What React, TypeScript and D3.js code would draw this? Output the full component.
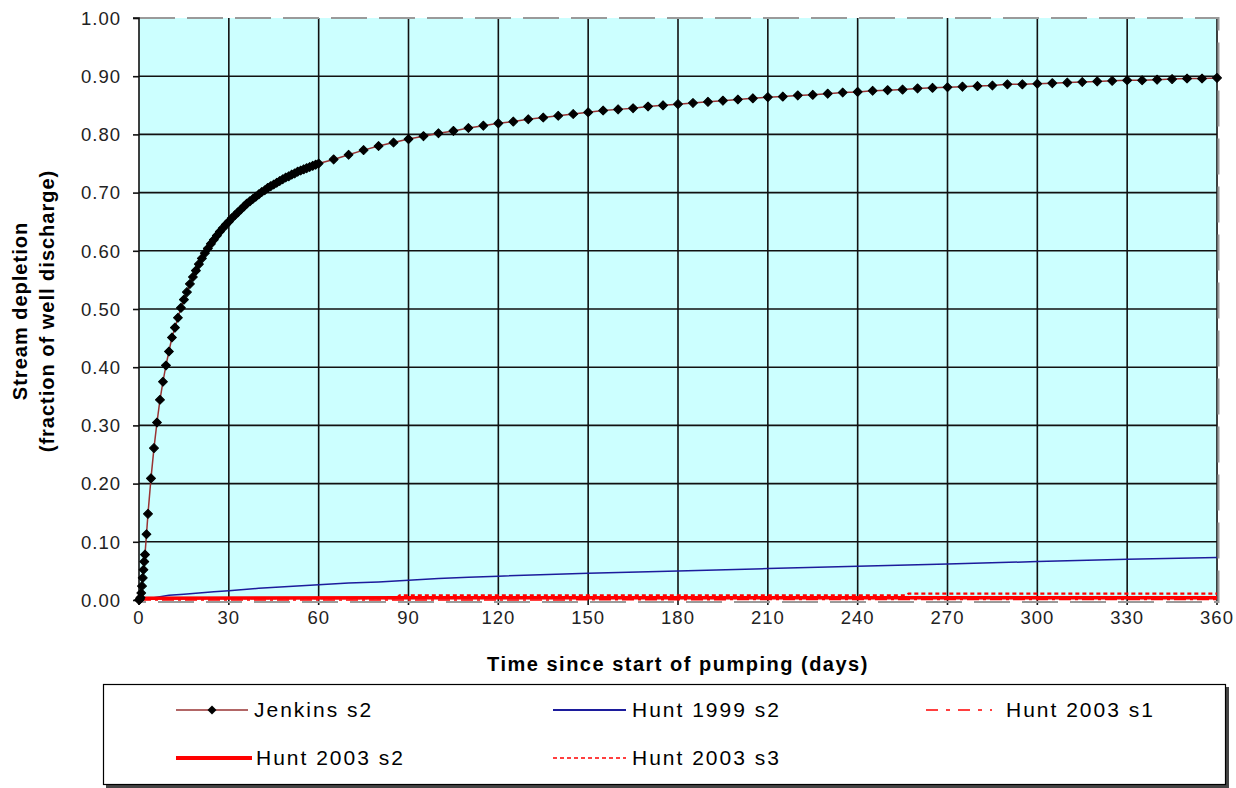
import React, { useEffect, useRef } from "react";
import * as d3 from "d3";

const W = 1236;
const H = 788;

// Jenkins s2 (days, fraction)
const jenkinsDays = [
  0, 0.25, 0.5, 0.75, 1, 1.25, 1.5, 1.75, 2, 2.5, 3,
  4, 5, 6, 7, 8, 9, 10, 11, 12, 13, 14, 15, 16, 17, 18, 19, 20,
  21, 22, 23, 24, 25, 26, 27, 28, 29, 30, 31, 32, 33, 34, 35, 36, 37, 38, 39, 40,
  41, 42, 43, 44, 45, 46, 47, 48, 49, 50, 51, 52, 53, 54, 55, 56, 57, 58, 59, 60,
  65, 70, 75, 80, 85, 90, 95, 100, 105, 110, 115, 120, 125, 130, 135, 140, 145, 150,
  155, 160, 165, 170, 175, 180, 185, 190, 195, 200, 205, 210, 215, 220, 225, 230, 235, 240,
  245, 250, 255, 260, 265, 270, 275, 280, 285, 290, 295, 300, 305, 310, 315, 320, 325, 330,
  335, 340, 345, 350, 355, 360,
];
const jenkinsVals = [
  0, 0.001, 0.004, 0.012, 0.024, 0.038, 0.052, 0.066, 0.078, 0.113, 0.148,
  0.209, 0.261, 0.305, 0.344, 0.375, 0.403, 0.427, 0.451, 0.468, 0.485, 0.502, 0.516, 0.529, 0.543, 0.555, 0.566, 0.577,
  0.587, 0.596, 0.604, 0.612, 0.619, 0.626, 0.633, 0.639, 0.645, 0.65, 0.656, 0.661, 0.666, 0.671, 0.676, 0.681, 0.685, 0.689, 0.693, 0.697,
  0.701, 0.704, 0.708, 0.711, 0.714, 0.717, 0.72, 0.723, 0.726, 0.728, 0.731, 0.733, 0.736, 0.738, 0.74, 0.742, 0.744, 0.746, 0.748, 0.75,
  0.757, 0.765, 0.773, 0.78, 0.786, 0.792, 0.797, 0.802, 0.806, 0.811, 0.815, 0.819, 0.822, 0.826, 0.829, 0.832, 0.835, 0.838,
  0.841, 0.843, 0.845, 0.848, 0.85, 0.852, 0.854, 0.856, 0.858, 0.86, 0.862, 0.864, 0.865, 0.867, 0.868, 0.87, 0.872, 0.873,
  0.875, 0.876, 0.877, 0.879, 0.88, 0.881, 0.882, 0.883, 0.884, 0.886, 0.886, 0.887, 0.888, 0.889, 0.89, 0.891, 0.892, 0.893,
  0.893, 0.894, 0.895, 0.896, 0.896, 0.897,
];

// Hunt 1999 s2
const hunt99Days = [0, 5, 10, 15, 20, 25, 30, 40, 50, 60, 70, 80, 90, 100, 110, 120, 150, 180, 210, 240, 270, 300, 330, 360];
const hunt99Vals = [0, 0.004, 0.008, 0.01, 0.012, 0.014, 0.016, 0.02, 0.023, 0.026, 0.029, 0.031, 0.034, 0.037, 0.039, 0.041, 0.046, 0.05, 0.054, 0.058, 0.062, 0.066, 0.07, 0.073];

// Hunt 2003 s1, s2, s3
const hunt03s1Days = [0, 120, 240, 360];
const hunt03s1Vals = [0, 0, 0.001, 0.001];
const hunt03s2Days = [0, 90, 180, 270, 360];
const hunt03s2Vals = [0.003, 0.004, 0.004, 0.004, 0.004];
const hunt03s3Days = [0, 86, 87, 256, 257, 360];
const hunt03s3Vals = [0.003, 0.003, 0.008, 0.008, 0.011, 0.011];

const xTicks = [0, 30, 60, 90, 120, 150, 180, 210, 240, 270, 300, 330, 360];
const yTicks = [0, 0.1, 0.2, 0.3, 0.4, 0.5, 0.6, 0.7, 0.8, 0.9, 1.0];

const legendLabels = ["Jenkins s2", "Hunt 1999 s2", "Hunt 2003 s1", "Hunt 2003 s2", "Hunt 2003 s3"];

const FONT = "'Liberation Sans', Arial, sans-serif";

export default function App() {
  const svgRef = useRef<SVGSVGElement>(null);

  useEffect(() => {
    const svg = d3.select(svgRef.current);
    svg.selectAll("*").remove();

    const x = d3.scaleLinear().domain([0, 360]).range([139, 1217]);
    const y = d3.scaleLinear().domain([0, 1]).range([600, 18]);

    // plot background
    svg.append("rect")
      .attr("x", x(0)).attr("y", y(1))
      .attr("width", x(360) - x(0)).attr("height", y(0) - y(1))
      .attr("fill", "#ccffff");

    // grid
    const grid = svg.append("g").attr("stroke", "#111").attr("stroke-width", 1.6);
    grid.selectAll(".gy")
      .data(yTicks.filter((d) => d > 0 && d < 1))
      .join("line")
      .attr("x1", x(0)).attr("x2", x(360))
      .attr("y1", (d) => y(d)).attr("y2", (d) => y(d));
    grid.selectAll(".gx")
      .data(xTicks.filter((d) => d > 0))
      .join("line")
      .attr("x1", (d) => x(d)).attr("x2", (d) => x(d))
      .attr("y1", y(1)).attr("y2", y(0) + 5);

    // dashed plot border (top, right, bottom)
    svg.append("path")
      .attr("d", `M${x(0)},${y(1)}H${x(360) + 1.5}V${y(0) + 2}H${x(0)}`)
      .attr("fill", "none")
      .attr("stroke", "#9a9a9a")
      .attr("stroke-width", 2)
      .attr("stroke-dasharray", "36,12");

    // y axis
    const yAxis = d3.axisLeft(y).tickValues(yTicks).tickSize(6).tickPadding(12)
      .tickFormat((d) => d3.format(".2f")(d as number));
    svg.append("g")
      .attr("transform", `translate(${x(0)},0)`)
      .call(yAxis)
      .call((g) => g.selectAll("line").attr("stroke", "#111").attr("stroke-width", 1.6))
      .call((g) => g.select(".domain").attr("stroke", "#111").attr("stroke-width", 1.6).attr("d", `M-6,${y(1)}H0V${y(0) + 5}`))
      .call((g) => g.selectAll("text")
        .attr("font-family", FONT).attr("font-size", 18.5).attr("fill", "#222")
        .attr("letter-spacing", 1).attr("dy", "0.34em"));

    // x axis labels
    svg.append("g")
      .selectAll("text")
      .data(xTicks)
      .join("text")
      .attr("x", (d) => x(d))
      .attr("y", 624)
      .attr("text-anchor", "middle")
      .attr("font-family", FONT).attr("font-size", 18.5).attr("fill", "#222")
      .attr("letter-spacing", 1)
      .text((d) => d);

    // series
    const line = d3.line<[number, number]>().x((d) => x(d[0])).y((d) => y(d[1]));
    const zip = (a: number[], b: number[]) => a.map((d, i) => [d, b[i]] as [number, number]);

    svg.append("path")
      .attr("d", line(zip(hunt99Days, hunt99Vals)))
      .attr("fill", "none").attr("stroke", "#1c1c9c").attr("stroke-width", 1.5);

    svg.append("path")
      .attr("d", line(zip(hunt03s1Days, hunt03s1Vals)))
      .attr("fill", "none").attr("stroke", "#ff0000").attr("stroke-width", 1.5)
      .attr("stroke-dasharray", "12,4,3,4");

    svg.append("path")
      .attr("d", line(zip(hunt03s2Days, hunt03s2Vals)))
      .attr("fill", "none").attr("stroke", "#ff0000").attr("stroke-width", 3.5);

    svg.append("path")
      .attr("d", line(zip(hunt03s3Days, hunt03s3Vals)))
      .attr("fill", "none").attr("stroke", "#ff0000").attr("stroke-width", 2.2)
      .attr("stroke-dasharray", "4,3");

    const jenkins = zip(jenkinsDays, jenkinsVals);
    svg.append("path")
      .attr("d", line(jenkins))
      .attr("fill", "none").attr("stroke", "#993333").attr("stroke-width", 1.5);

    const diamond = d3.symbol().type(d3.symbolSquare).size(40)();
    svg.append("g")
      .selectAll("path")
      .data(jenkins)
      .join("path")
      .attr("d", diamond)
      .attr("transform", (d) => `translate(${x(d[0])},${y(d[1])}) rotate(45)`)
      .attr("fill", "#000")
      .attr("stroke", "#000")
      .attr("stroke-width", 1)
      .attr("stroke-linejoin", "round");

    // axis titles
    svg.append("text")
      .attr("x", 678).attr("y", 671)
      .attr("text-anchor", "middle")
      .attr("font-family", FONT).attr("font-size", 20).attr("font-weight", "bold")
      .attr("letter-spacing", 1.5)
      .text("Time since start of pumping (days)");

    const yTitle = svg.append("g").attr("transform", "translate(0,311) rotate(-90)");
    yTitle.append("text")
      .attr("x", 0).attr("y", 27)
      .attr("text-anchor", "middle")
      .attr("font-family", FONT).attr("font-size", 20).attr("font-weight", "bold")
      .attr("letter-spacing", 1)
      .text("Stream depletion");
    yTitle.append("text")
      .attr("x", 0).attr("y", 54)
      .attr("text-anchor", "middle")
      .attr("font-family", FONT).attr("font-size", 20).attr("font-weight", "bold")
      .attr("letter-spacing", 1)
      .text("(fraction of well discharge)");

    // legend
    const lg = svg.append("g");
    lg.append("rect").attr("x", 106).attr("y", 687).attr("width", 1123).attr("height", 101).attr("fill", "#444");
    lg.append("rect").attr("x", 103.5).attr("y", 684.5).attr("width", 1122).attr("height", 100)
      .attr("fill", "#fff").attr("stroke", "#000").attr("stroke-width", 1.2);

    const items = [
      { x0: 176, x1: 248, tx: 254, ty: 710, stroke: "#993333", w: 1.6, dash: null, marker: true },
      { x0: 553, x1: 626, tx: 632, ty: 710, stroke: "#1c1c9c", w: 1.8, dash: null, marker: false },
      { x0: 926, x1: 992, tx: 1006, ty: 710, stroke: "#ff0000", w: 1.6, dash: "12,8,4,8", marker: false },
      { x0: 176, x1: 252, tx: 256, ty: 758, stroke: "#ff0000", w: 4, dash: null, marker: false },
      { x0: 553, x1: 626, tx: 632, ty: 758, stroke: "#ff0000", w: 1.6, dash: "4,3", marker: false },
    ];
    items.forEach((it, i) => {
      const l = lg.append("line")
        .attr("x1", it.x0).attr("x2", it.x1).attr("y1", it.ty).attr("y2", it.ty)
        .attr("stroke", it.stroke).attr("stroke-width", it.w);
      if (it.dash) l.attr("stroke-dasharray", it.dash);
      if (it.marker) {
        lg.append("path").attr("d", diamond)
          .attr("transform", `translate(${(it.x0 + it.x1) / 2},${it.ty}) rotate(45)`)
          .attr("fill", "#000");
      }
      lg.append("text")
        .attr("x", it.tx).attr("y", it.ty + 7)
        .attr("font-family", FONT).attr("font-size", 21).attr("fill", "#000")
        .attr("letter-spacing", 2)
        .text(legendLabels[i]);
    });
  }, []);

  return (
    <svg
      ref={svgRef}
      width={W}
      height={H}
      style={{ position: "absolute", left: 0, top: 0, background: "#fff" }}
    />
  );
}
